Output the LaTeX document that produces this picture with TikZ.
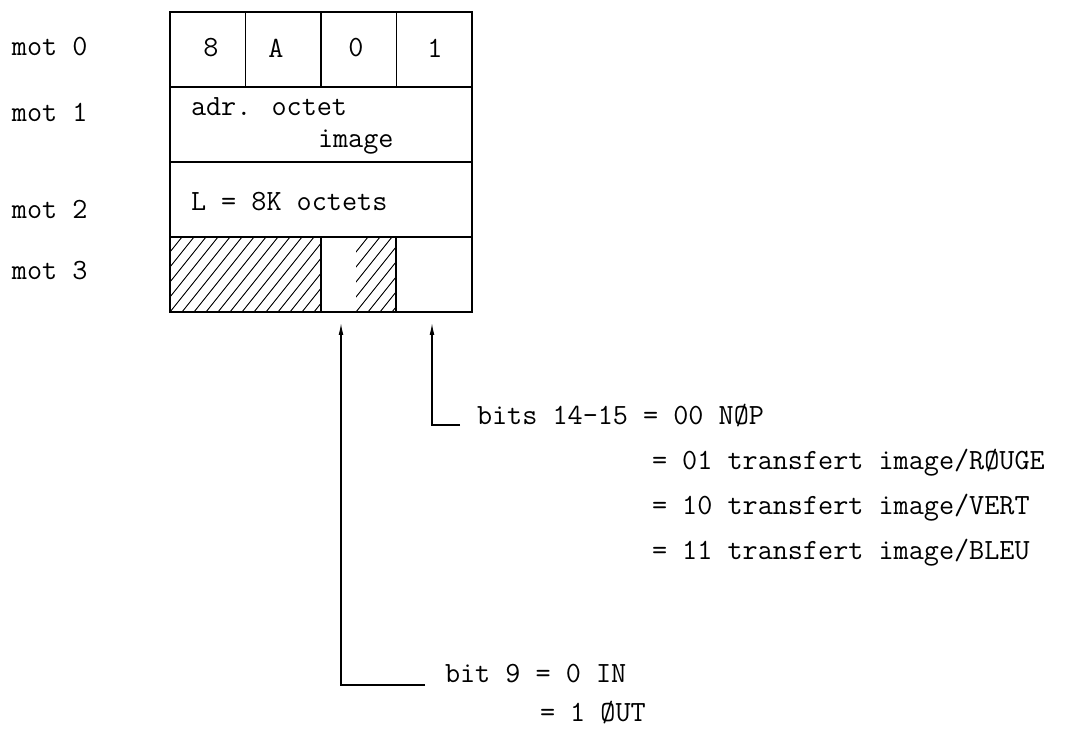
\documentclass[tikz,border=0pt]{standalone}
\usetikzlibrary{arrows.meta}
\begin{document}
\begin{tikzpicture}[x=0.75pt,y=-0.75pt,
  txt/.style={font=\fontsize{22}{26}\selectfont\ttfamily, inner sep=0pt, outer sep=0pt},
  cellbox/.style={draw, line width=1pt, inner sep=0pt, outer sep=0pt, anchor=north west, minimum height=56.25pt},
  hatchbox/.style={inner sep=0pt, outer sep=0pt, anchor=north west, minimum height=56.25pt,
    path picture={\foreach \k in {-8,...,16}
      \draw[line width=0.7pt] ([xshift=\k*9pt]path picture bounding box.south west) -- ++(48pt,60pt);}},
  arr/.style={line width=0.9pt, -{Latex[length=9pt,width=3.6pt]}}]
\useasboundingbox (0,0) rectangle (1071,730);

% left labels
\node[txt, anchor=base west] (m0) at (12,56) {mot 0};
\node[txt, anchor=base west] (m1) at (12,122) {mot 1};
\node[txt, anchor=base west] (m2) at (12,219) {mot 2};
\node[txt, anchor=base west] (m3) at (12,280) {mot 3};

% row 0
\node[cellbox, minimum width=56.6pt] (c00) at (170,12) {};
\node[cellbox, minimum width=56.6pt] (c01) at (245.5,12) {};
\node[cellbox, minimum width=56.6pt] (c02) at (321,12) {};
\node[cellbox, minimum width=56.6pt] (c03) at (396.5,12) {};
\node[txt] (t00) at (211,48) {8};
\node[txt] (t01) at (276,48) {A};
\node[txt] (t02) at (356,48) {0};
\node[txt] (t03) at (435,48) {1};

% row 1
\node[cellbox, minimum width=226.5pt] (r1) at (170,87) {};
\node[txt, anchor=base west] (adr) at (191,116) {adr. octet};
\node[txt, anchor=base west] (img) at (318,148) {image};

% row 2
\node[cellbox, minimum width=226.5pt] (r2) at (170,162) {};
\node[txt, anchor=base west] (len) at (191,211) {L = 8K octets};

% row 3
\node[hatchbox, minimum width=113.25pt] (h1) at (170,237) {};
\node[hatchbox, minimum width=30pt] (h2) at (356,237) {};
\node[cellbox, minimum width=226.5pt] (r3) at (170,237) {};
\draw[line width=1pt] (h1.north east) -- (h1.south east);
\draw[line width=1pt] (h2.north east) -- (h2.south east);

% annotations
\node[txt, anchor=base west] (b14) at (477,425) {bits 14-15 = 00 NØP};
\node[txt, anchor=base west] (b01) at (652,470) {= 01 transfert image/RØUGE};
\node[txt, anchor=base west] (b10) at (652,515) {= 10 transfert image/VERT};
\node[txt, anchor=base west] (b11) at (652,560) {= 11 transfert image/BLEU};
\node[txt, anchor=base west] (b9) at (445,682) {bit 9 = 0 IN};
\node[txt, anchor=base west] (b9b) at (540,721) {= 1 ØUT};

\coordinate (s14) at (460,425);
\coordinate (e14) at (432,323);
\coordinate (s9) at (425,685);
\coordinate (e9) at (341,323);
\draw[arr] (s14) -| (e14);
\draw[arr] (s9) -| (e9);
\end{tikzpicture}
\end{document}
